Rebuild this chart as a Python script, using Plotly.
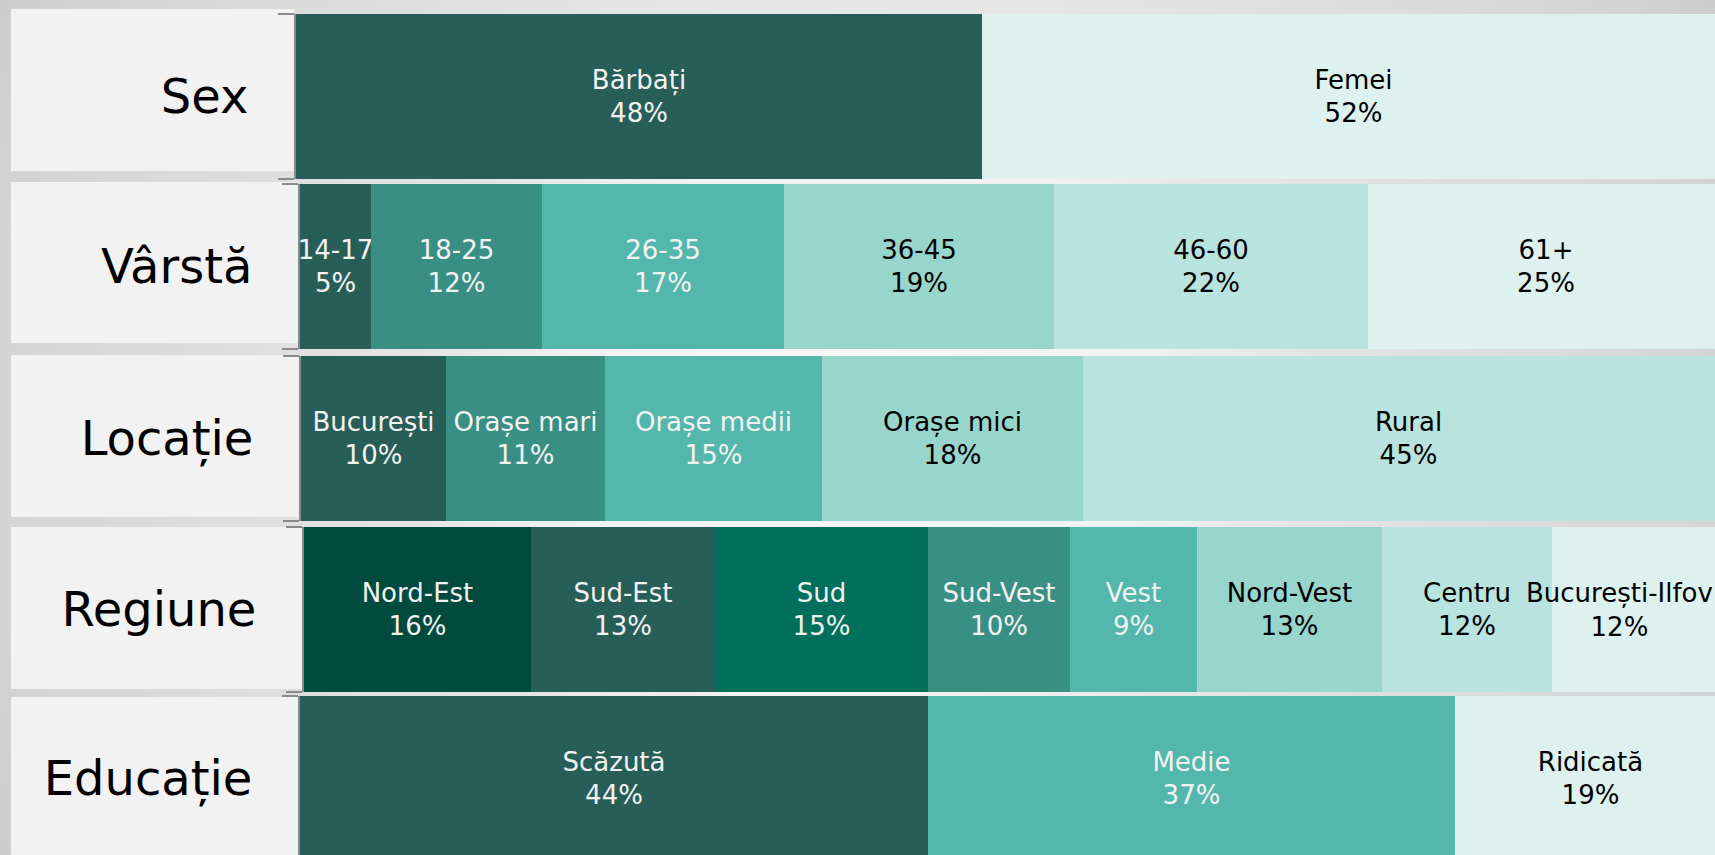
import base64
import plotly.graph_objects as go

# ---------------- data ----------------
row_names = ["Sex", "Vârstă", "Locație", "Regiune", "Educație"]

sex_labels = ["Bărbați", "Femei"]
sex_values = [48, 52]

age_labels = ["14-17", "18-25", "26-35", "36-45", "46-60", "61+"]
age_values = [5, 12, 17, 19, 22, 25]

loc_labels = ["București", "Orașe mari", "Orașe medii", "Orașe mici", "Rural"]
loc_values = [10, 11, 15, 18, 45]

reg_labels = ["Nord-Est", "Sud-Est", "Sud", "Sud-Vest", "Vest", "Nord-Vest", "Centru", "București-Ilfov"]
reg_values = [16, 13, 15, 10, 9, 13, 12, 12]

edu_labels = ["Scăzută", "Medie", "Ridicată"]
edu_values = [44, 37, 19]

# ---------------- style ----------------
W, H = 1715, 855
C0, C1, C2, C3, C4, C5, C6, C7 = ("#004a3e", "#275e58", "#00705c", "#3a8f84",
                                  "#54b7ab", "#98d5cc", "#b9e3de", "#ddf1ee")
DARK_TXT, LIGHT_TXT = "#000000", "#f2f2f2"
FONT = "DejaVu Sans"

rows = [
    (sex_labels, sex_values, [C1, C7]),
    (age_labels, age_values, [C1, C3, C4, C5, C6, C7]),
    (loc_labels, loc_values, [C1, C3, C4, C5, C6]),
    (reg_labels, reg_values, [C0, C1, C2, C3, C4, C5, C6, C7]),
    (edu_labels, edu_values, [C1, C4, C7]),
]
light_fill = {C5, C6, C7}

# per-row geometry (pixels)
x_start = [296, 300, 301, 304, 300]
bar_tb = [(14, 179), (184, 349), (356, 521), (527, 692), (696, 855)]
x_max = [99.3, 99.4, 97.7, 99.5, 99.2]
box_tb = [(9, 171), (182, 343), (355, 517), (527, 689), (697, 855)]

fig = go.Figure()
layout_axes = {}
shapes = []
annotations = []

for i, (name, (labels, values, colors)) in enumerate(zip(row_names, rows)):
    n = i + 1
    xa = "x" if n == 1 else f"x{n}"
    ya = "y" if n == 1 else f"y{n}"
    for j, (lab, val, col) in enumerate(zip(labels, values, colors)):
        tcol = DARK_TXT if col in light_fill else LIGHT_TXT
        # label of a segment running past the visible edge is kept inside the view
        edge_label = (name == "Regiune" and j == len(labels) - 1)
        fig.add_trace(go.Bar(
            x=[val], y=[name], orientation="h",
            marker=dict(color=col, line=dict(width=0)),
            text=[lab],
            texttemplate="%{text}<br>%{x}%",
            textposition="none" if edge_label else "inside",
            insidetextanchor="middle", textangle=0,
            textfont=dict(color=tcol, size=26, family=FONT),
            xaxis=xa, yaxis=ya, showlegend=False, hoverinfo="skip",
        ))
        if edge_label:
            annotations.append(dict(
                x=x_max[i], y=name, xref=xa, yref=ya, xanchor="right",
                yanchor="middle", showarrow=False,
                text=f"{lab}<br>{val}%",
                font=dict(color=tcol, size=26, family=FONT),
            ))

    top, bot = bar_tb[i]
    y_lo = -0.5
    if i == 4:
        y_lo = -0.5 + (165 - (bot - top)) / 165.0
    layout_axes["xaxis" if n == 1 else f"xaxis{n}"] = dict(
        domain=[x_start[i] / W, 1], range=[0, x_max[i]], visible=False,
        fixedrange=True, anchor=ya,
    )
    layout_axes["yaxis" if n == 1 else f"yaxis{n}"] = dict(
        domain=[1 - bot / H, 1 - top / H], range=[y_lo, 0.5],
        type="category", categoryarray=[name], anchor=xa,
        showline=True, linecolor="#8a8a8a", linewidth=2,
        ticks="outside", ticklen=16, tickwidth=2, tickcolor="#8a8a8a",
        tickson="boundaries", showgrid=False, zeroline=False,
        tickfont=dict(size=48, color="#000000", family=FONT),
        ticklabelstandoff=36, fixedrange=True,
    )
    bt, bb = box_tb[i]
    shapes.append(dict(
        type="rect", xref="paper", yref="paper", layer="below",
        x0=11 / W, x1=(x_start[i] - 2) / W, y0=1 - bb / H, y1=1 - bt / H,
        fillcolor="#f2f2f2", line=dict(width=0),
    ))

svg = (
    f'<svg xmlns="http://www.w3.org/2000/svg" width="{W}" height="{H}" '
    f'viewBox="0 0 {W} {H}" preserveAspectRatio="none">'
    f'<defs><radialGradient id="g" gradientUnits="userSpaceOnUse" '
    f'cx="{W/2}" cy="{H/2}" r="960">'
    '<stop offset="0" stop-color="#f8f8f8"/>'
    '<stop offset="0.3" stop-color="#f2f2f2"/>'
    '<stop offset="0.45" stop-color="#e6e6e6"/>'
    '<stop offset="0.88" stop-color="#d5d5d5"/>'
    '<stop offset="1" stop-color="#cdcdcd"/>'
    '</radialGradient></defs>'
    f'<rect width="{W}" height="{H}" fill="url(#g)"/></svg>'
)
bg_uri = "data:image/svg+xml;base64," + base64.b64encode(svg.encode()).decode()

fig.update_layout(
    width=W, height=H,
    margin=dict(l=0, r=0, t=0, b=0, pad=0),
    paper_bgcolor="#dcdcdc", plot_bgcolor="rgba(0,0,0,0)",
    barmode="stack", bargap=0,
    uniformtext=dict(minsize=26, mode="show"),
    font=dict(family=FONT),
    shapes=shapes, annotations=annotations,
    images=[dict(source=bg_uri, xref="paper", yref="paper", x=0, y=1,
                 sizex=1, sizey=1, xanchor="left", yanchor="top",
                 sizing="stretch", layer="below")],
    **layout_axes,
)

fig.write_html(
    "out.html",
    config={"displayModeBar": False},
    post_script="document.body.style.margin='0';document.body.style.overflow='hidden';",
)
